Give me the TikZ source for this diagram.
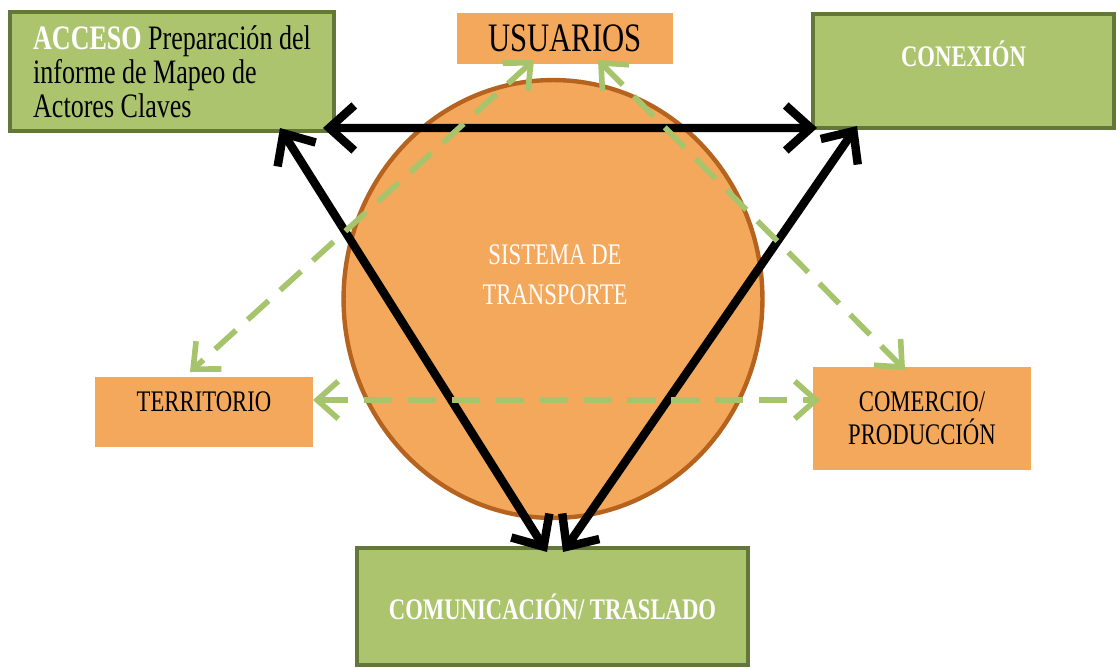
\documentclass[tikz,border=0pt]{standalone}
\usepackage{fontspec}
\setmainfont{Liberation Serif}[FakeStretch=0.76]
\usepackage{tikz}
\usetikzlibrary{arrows.meta, shapes.geometric}
\usepackage{xcolor}
\definecolor{boxgreen}{HTML}{ADC46F}
\definecolor{boxborder}{HTML}{64773A}
\definecolor{boxorange}{HTML}{F4A85C}
\definecolor{ringbrown}{HTML}{B5631E}
\definecolor{arrowgreen}{HTML}{A6C46C}
\tikzset{%
	green box/.style={
		draw=boxborder,
		line width=2.5pt,
		fill=boxgreen,
		outer sep=0pt,
		text=white,
		font=\bfseries\fontsize{17}{20}\selectfont
	},
	orange box/.style={
		fill=boxorange,
		outer sep=0pt,
		font=\fontsize{17}{19}\selectfont
	},
	big arrow/.style={
		line width=4.8pt,
		{Straight Barb[length=0.5cm,width=0.9cm]}-{Straight Barb[length=0.5cm,width=0.9cm]}
	},
	dash arrow/.style={
		draw=arrowgreen,
		line width=3.2pt,
		dash pattern=on 16pt off 9pt,
		{Straight Barb[length=0.42cm,width=0.75cm]}-{Straight Barb[length=0.42cm,width=0.75cm]}
	},
}
\begin{document}
\begin{tikzpicture}[x=0.02cm,y=-0.02cm]
			\useasboundingbox (0,0) rectangle (1118,669);
			
			% circle in the middle
			\node[ellipse, draw=ringbrown, line width=2.5pt, fill=boxorange,
			      minimum width=8.38cm, minimum height=8.76cm] (sistema) at (553,299) {};
			\node[text=white, align=center, font=\fontsize{17}{22.5}\selectfont] (sistlabel) at (555,275) {SISTEMA DE\\TRANSPORTE};
			
			% boxes
			\node[green box, minimum width=6.48cm, minimum height=2.38cm, text=black,
			      font=\fontsize{19.5}{19.2}\selectfont, align=left, text depth=0pt] (acceso) at (172,71.5)
			      {\textcolor{white}{\bfseries ACCESO} Preparación del\\informe de Mapeo de\\Actores Claves};
			\node[green box, minimum width=6.02cm, minimum height=2.28cm, text depth=0.7cm] (conexion) at (963.5,71) {CONEXIÓN};
			\node[green box, minimum width=7.82cm, minimum height=2.34cm] (comunicacion) at (552.5,606.5) {COMUNICACIÓN/ TRASLADO};
			
			\node[orange box, minimum width=4.32cm, minimum height=1.02cm, font=\fontsize{23}{25}\selectfont] (usuarios) at (565,38.5) {USUARIOS};
			\node[orange box, minimum width=4.36cm, minimum height=1.4cm, text depth=0.4cm] (territorio) at (204,412) {TERRITORIO};
			\node[orange box, minimum width=4.36cm, minimum height=2.06cm, align=center] (comercio) at (922,418.5) {COMERCIO/\\PRODUCCIÓN};
			
			% black arrows
			\draw[big arrow] ([shift={(-11,-3)}]acceso.south east) -- ([shift={(4,0)}]conexion.south west);
			\draw[big arrow] ([shift={(-54,-3)}]acceso.south east) -- ([shift={(-5.5,4)}]comunicacion.north);
			\draw[big arrow] ([shift={(44,-2)}]conexion.south west) -- ([shift={(10.5,4)}]comunicacion.north);
			
			% green dashed arrows
			\draw[dash arrow] ([shift={(-31,-4)}]usuarios.south) -- ([shift={(-14,-5)}]territorio.north);
			\draw[dash arrow] ([shift={(33,-4)}]usuarios.south) -- ([shift={(-17,3)}]comercio.north);
			\draw[dash arrow] ([shift={(0,-12)}]territorio.east) -- ([shift={(7,-18.5)}]comercio.west);
		\end{tikzpicture}
\end{document}
